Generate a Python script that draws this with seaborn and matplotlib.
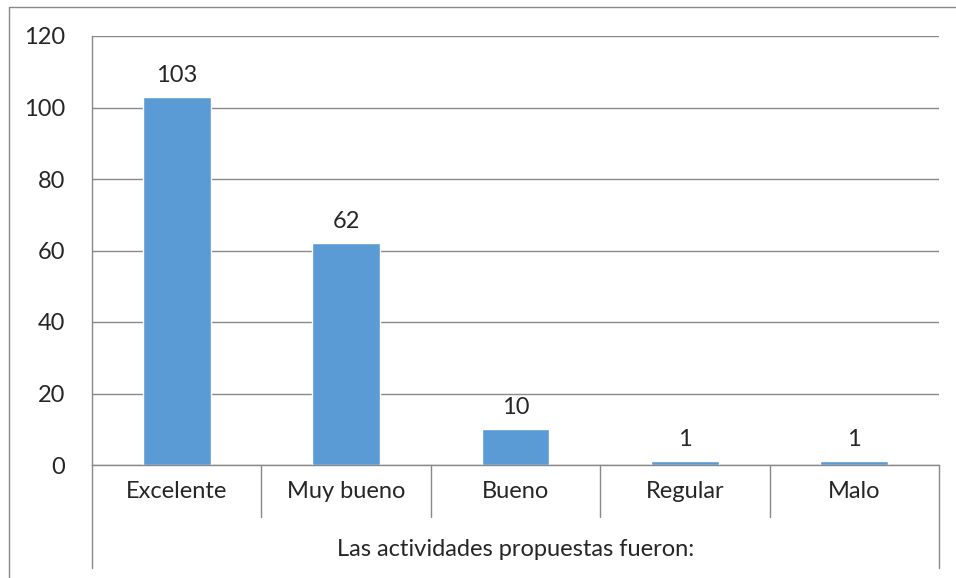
import matplotlib
matplotlib.use("Agg")
import matplotlib.pyplot as plt
import matplotlib.transforms as mtransforms
from matplotlib.lines import Line2D
import seaborn as sns
import pandas as pd

# Data
categories = ["Excelente", "Muy bueno", "Bueno", "Regular", "Malo"]
counts = [103, 62, 10, 1, 1]
group_label = "Las actividades propuestas fueron:"

df = pd.DataFrame({"categoria": categories, "respuestas": counts})

sns.set_style("white")
plt.rcParams["font.family"] = ["Lato", "DejaVu Sans"]
FS = 17

W, H = 956, 578
fig = plt.figure(figsize=(W / 100, H / 100), dpi=100)

# chart border (only top and left are visible in the crop)
fig.lines.append(Line2D([8.5 / W, 8.5 / W, 1], [0, (H - 6.5) / H, (H - 6.5) / H],
                        transform=fig.transFigure, color="#888888", linewidth=1))

ax = fig.add_axes([92 / W, (H - 465) / H, 847 / W, (465 - 36) / H])

sns.barplot(data=df, x="categoria", y="respuestas", color="#5B9BD5",
            width=0.4, saturation=1, ax=ax)

ax.set_ylim(0, 120)
ax.set_xlim(-0.5, len(categories) - 0.5)
ax.set_yticks(range(0, 121, 20))
ax.yaxis.grid(True, color="#898989", linewidth=1)
ax.set_axisbelow(True)
ax.tick_params(axis="y", length=6.5, width=1, color="#898989", pad=13, labelsize=FS)
ax.tick_params(axis="x", length=0, labelbottom=False)
ax.set_xlabel("")
ax.set_ylabel("")

for side in ["top", "right"]:
    ax.spines[side].set_visible(False)
for side in ["left", "bottom"]:
    ax.spines[side].set_color("#898989")
    ax.spines[side].set_linewidth(1)

ax.bar_label(ax.containers[0], padding=8, fontsize=FS)

# multi-level category axis
trans = mtransforms.blended_transform_factory(ax.transData, ax.transAxes)
ph = 465 - 36
for i in range(len(categories) - 1):
    ax.plot([i + 0.5, i + 0.5], [0, -52 / ph], transform=trans,
            color="#898989", linewidth=1, clip_on=False)
for xb in [-0.5, len(categories) - 0.5]:
    ax.plot([xb, xb], [0, -103 / ph], transform=trans,
            color="#898989", linewidth=1, clip_on=False)
for i, c in enumerate(categories):
    ax.text(i, -26 / ph, c, transform=trans, ha="center", va="center", fontsize=FS)
ax.text((len(categories) - 1) / 2, -85 / ph, group_label, transform=trans,
        ha="center", va="center", fontsize=FS)

fig.savefig("out.png", dpi=100)
